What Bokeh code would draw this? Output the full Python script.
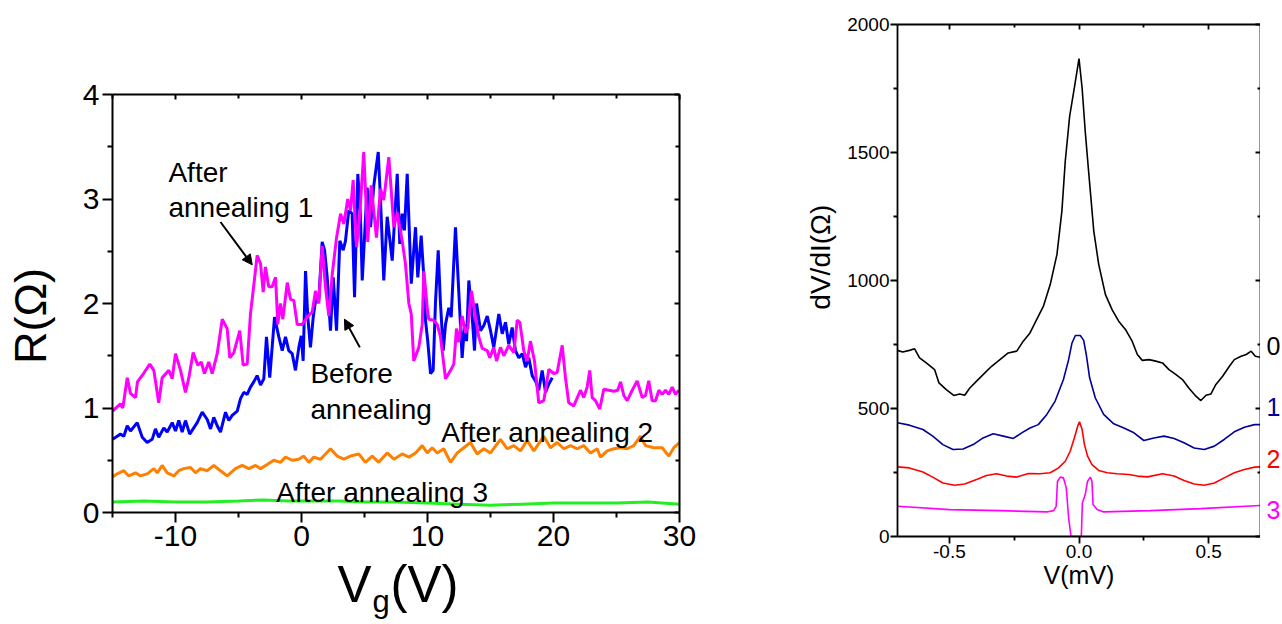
import math
from bokeh.plotting import figure
from bokeh.layouts import row, column
from bokeh.models import (LinearAxis, FixedTicker, Label, Arrow, NormalHead,
                          CustomJSTickFormatter, Range1d)
from bokeh.core.properties import value
from bokeh.embed import file_html
from bokeh.resources import INLINE

FONT = "Liberation Sans"

# ---------------- Left panel data: R (Ohm) vs Vg (V) ----------------
vg_before = [-15.0, -14.37, -14.10, -13.83, -13.57, -13.04, -12.64, -12.25, -11.85, -11.59,
             -11.33, -10.93, -10.66, -10.26, -10.0, -9.74, -9.47, -9.21, -8.87, -8.55,
             -8.28, -7.88, -7.48, -7.22, -6.96, -6.69, -6.43, -6.03, -5.77, -5.50,
             -5.10, -4.84, -4.58, -4.31, -4.05, -3.79, -3.52, -3.25, -2.99, -2.78,
             -2.52, -2.14, -1.80, -1.53, -1.27, -1.01, -0.74, -0.48, -0.21, -0.02,
             0.13, 0.32, 0.50, 0.71, 0.93, 1.19, 1.37, 1.64, 1.83, 2.04,
             2.30, 2.52, 2.78, 3.04, 3.31, 3.49, 3.75, 4.02, 4.21, 4.47,
             4.68, 4.82, 5.21, 5.48, 5.74, 6.09, 6.27, 6.53, 6.80, 7.20,
             7.60, 7.80, 7.99, 8.17, 8.39, 8.71, 9.05, 9.23, 9.50, 9.71,
             9.84, 10.02, 10.24, 10.45, 10.63, 10.85, 11.03, 11.25, 11.43, 11.69,
             11.88, 12.22, 12.48, 12.75, 12.94, 13.10, 13.28, 13.55, 13.73, 13.89,
             14.21, 14.47, 14.74, 15.0, 15.26, 15.66, 15.93, 16.19, 16.45, 16.72,
             16.98, 17.25, 17.52, 17.78, 18.04, 18.31, 18.57, 18.83, 19.10, 19.37,
             19.63, 19.90]
r_before = [0.70, 0.75, 0.73, 0.83, 0.78, 0.86, 0.72, 0.67, 0.70, 0.80,
            0.72, 0.81, 0.77, 0.86, 0.78, 0.88, 0.77, 0.88, 0.75, 0.81,
            0.86, 0.96, 0.89, 0.80, 0.91, 0.83, 0.77, 0.96, 0.88, 0.93,
            0.97, 1.09, 1.15, 1.13, 1.20, 1.25, 1.31, 1.22, 1.28, 1.68,
            1.29, 1.87, 1.68, 1.55, 1.68, 1.55, 1.52, 1.36, 1.58, 1.69,
            1.45, 2.31, 1.87, 1.58, 1.87, 2.09, 2.03, 2.59, 2.51, 2.25,
            1.74, 2.25, 1.74, 2.60, 2.51, 2.60, 2.89, 2.86, 2.06, 3.24,
            2.83, 2.22, 3.11, 2.73, 3.13, 3.45, 2.99, 2.22, 2.83, 2.41,
            3.24, 2.57, 2.86, 2.70, 3.24, 2.19, 2.73, 2.25, 2.65, 2.25,
            1.84, 1.64, 1.33, 1.36, 2.00, 2.51, 2.00, 1.55, 1.80, 1.96,
            1.87, 2.73, 2.12, 1.48, 1.80, 1.64, 2.22, 1.87, 1.55, 2.00,
            1.74, 1.79, 1.88, 1.74, 1.58, 1.90, 1.71, 1.82, 1.61, 1.77,
            1.55, 1.48, 1.52, 1.39, 1.48, 1.31, 1.26, 1.17, 1.36, 1.15,
            1.23, 1.29]

vg_ann1 = [-15.0, -14.37, -14.18, -13.83, -13.57, -13.17, -13.02, -12.54, -12.04, -11.72,
           -11.33, -11.06, -10.53, -10.26, -10.0, -9.60, -9.21, -8.94, -8.60, -8.23,
           -7.96, -7.70, -7.36, -7.09, -6.69, -6.29, -5.90, -5.69, -5.37, -4.90,
           -4.63, -4.31, -4.05, -3.79, -3.52, -3.25, -3.04, -2.86, -2.60, -2.33,
           -2.06, -1.88, -1.67, -1.48, -1.13, -0.87, -0.61, -0.34, 0.06, 0.45,
           0.85, 1.11, 1.37, 1.64, 1.90, 2.17, 2.44, 2.78, 3.10, 3.36,
           3.67, 3.89, 4.10, 4.37, 4.63, 4.94, 5.26, 5.53, 5.95, 6.27,
           6.53, 6.93, 7.33, 7.60, 7.99, 8.25, 8.52, 8.71, 8.91, 9.31,
           9.58, 9.71, 9.98, 10.10, 10.50, 10.77, 11.03, 11.43, 11.83, 12.09,
           12.30, 12.48, 12.75, 13.02, 13.20, 13.49, 13.81, 14.07, 14.34, 14.74,
           14.94, 15.26, 15.48, 15.79, 16.06, 16.45, 16.85, 17.12, 17.33, 17.64,
           17.91, 18.17, 18.49, 18.83, 19.23, 19.63, 20.02, 20.29, 20.69, 20.95,
           21.21, 21.61, 22.14, 22.40, 22.67, 22.88, 23.07, 23.33, 23.67, 23.99,
           24.39, 24.79, 25.10, 25.32, 25.58, 25.85, 26.25, 26.64, 27.04, 27.30,
           27.56, 27.83, 28.10, 28.36, 28.63, 28.89, 29.15, 29.42, 29.68, 29.95]
r_ann1 = [0.97, 1.04, 1.00, 1.29, 1.14, 1.10, 1.25, 1.33, 1.42, 1.36,
          1.05, 1.29, 1.36, 1.28, 1.52, 1.36, 1.15, 1.29, 1.53, 1.41,
          1.44, 1.33, 1.44, 1.33, 1.52, 1.85, 1.76, 1.48, 1.53, 1.74,
          1.41, 1.42, 1.90, 2.17, 2.46, 2.38, 2.11, 2.35, 2.16, 2.16,
          2.25, 1.80, 2.00, 1.85, 2.20, 2.04, 2.03, 1.80, 1.80, 1.87,
          1.92, 2.12, 2.00, 2.55, 2.16, 1.88, 2.28, 2.63, 2.86, 2.76,
          3.00, 2.89, 3.18, 2.54, 2.86, 3.45, 2.59, 3.13, 2.63, 3.10,
          2.99, 3.40, 2.73, 2.87, 2.60, 2.38, 2.00, 1.90, 1.45, 1.58,
          1.80, 2.31, 1.96, 1.85, 1.84, 1.80, 1.68, 1.28, 1.36, 1.42,
          1.76, 1.63, 1.88, 1.72, 1.77, 2.12, 1.87, 1.68, 1.57, 1.55,
          1.48, 1.58, 1.45, 1.58, 1.50, 1.60, 1.53, 1.84, 1.82, 1.55,
          1.45, 1.64, 1.45, 1.05, 1.07, 1.37, 1.33, 1.34, 1.60, 1.29,
          1.05, 1.02, 1.17, 1.10, 1.20, 1.36, 1.10, 1.07, 0.99, 1.18,
          1.17, 1.16, 1.17, 1.25, 1.12, 1.07, 1.17, 1.26, 1.10, 1.12,
          1.26, 1.07, 1.07, 1.17, 1.13, 1.17, 1.13, 1.20, 1.13, 1.17]

vg_ann2 = [-15.0, -14.63, -14.10, -13.71, -13.17, -12.78, -12.25, -11.72, -11.45, -11.06,
           -10.66, -10.13, -9.74, -9.34, -8.81, -8.41, -8.02, -7.48, -6.96, -6.43,
           -5.90, -5.24, -4.71, -4.18, -3.65, -3.25, -2.72, -2.20, -1.67, -1.27,
           -0.74, -0.21, 0.18, 0.58, 0.98, 1.51, 2.30, 2.83, 3.36, 3.89,
           4.55, 5.08, 5.61, 6.13, 6.80, 7.33, 7.99, 8.52, 9.05, 9.58,
           9.98, 10.37, 10.77, 11.29, 11.83, 12.36, 12.88, 13.41, 13.94, 14.47,
           15.0, 15.79, 16.33, 16.85, 17.38, 17.91, 18.44, 19.23, 19.76, 20.29,
           20.82, 21.35, 21.88, 22.40, 22.94, 23.47, 23.73, 24.26, 24.79, 25.32,
           25.85, 26.37, 26.90, 27.30, 27.96, 28.63, 29.15, 29.55, 30.0]
r_ann2 = [0.34, 0.37, 0.40, 0.35, 0.38, 0.35, 0.37, 0.42, 0.38, 0.45,
          0.38, 0.35, 0.40, 0.42, 0.43, 0.38, 0.42, 0.40, 0.45, 0.40,
          0.35, 0.42, 0.45, 0.42, 0.45, 0.42, 0.46, 0.50, 0.48, 0.53,
          0.50, 0.51, 0.54, 0.48, 0.53, 0.51, 0.61, 0.54, 0.51, 0.54,
          0.56, 0.48, 0.54, 0.48, 0.57, 0.51, 0.56, 0.53, 0.57, 0.64,
          0.57, 0.62, 0.57, 0.61, 0.48, 0.57, 0.62, 0.67, 0.56, 0.61,
          0.57, 0.70, 0.61, 0.64, 0.59, 0.69, 0.59, 0.73, 0.62, 0.67,
          0.61, 0.64, 0.61, 0.64, 0.57, 0.61, 0.53, 0.59, 0.61, 0.62,
          0.61, 0.64, 0.73, 0.64, 0.62, 0.62, 0.54, 0.62, 0.67]

vg_ann3 = [-15.0, -12.5, -10.0, -7.5, -5.0, -3.0, -1.0, 1.0, 3.0, 5.0,
           7.5, 10.0, 12.5, 15.0, 17.5, 20.0, 22.5, 25.0, 27.5, 30.0]
r_ann3 = [0.10, 0.11, 0.10, 0.10, 0.11, 0.12, 0.11, 0.11, 0.11, 0.10,
          0.10, 0.09, 0.08, 0.07, 0.08, 0.09, 0.09, 0.09, 0.10, 0.08]

vg_ticks = [-10, 0, 10, 20, 30]
vg_minor = [-15, -5, 5, 15, 25]
r_ticks = [0, 1, 2, 3, 4]
r_minor = [0.5, 1.5, 2.5, 3.5]

# ---------------- Right panel data: dV/dI (Ohm) vs V (mV) ----------------
v0 = [-0.70, -0.68, -0.654, -0.634, -0.615, -0.589, -0.557, -0.540, -0.512, -0.483,
      -0.460, -0.441, -0.421, -0.395, -0.363, -0.337, -0.305, -0.273, -0.240, -0.215,
      -0.189, -0.163, -0.137, -0.111, -0.085, -0.066, -0.053, -0.036, -0.018, 0.0,
      0.012, 0.024, 0.037, 0.057, 0.076, 0.102, 0.128, 0.153, 0.179, 0.205,
      0.225, 0.244, 0.270, 0.296, 0.322, 0.347, 0.373, 0.399, 0.425, 0.451,
      0.470, 0.490, 0.509, 0.528, 0.554, 0.580, 0.599, 0.625, 0.645, 0.664,
      0.680, 0.70]
d0 = [727, 721, 727, 733, 698, 678, 652, 600, 574, 551,
      557, 552, 580, 607, 639, 665, 691, 717, 724, 763,
      795, 848, 900, 984, 1102, 1271, 1466, 1642, 1752, 1867,
      1752, 1583, 1427, 1193, 1063, 945, 885, 841, 809, 763,
      711, 688, 691, 685, 678, 652, 633, 613, 578, 548,
      531, 552, 557, 594, 626, 665, 691, 704, 711, 724,
      704, 700]

v1 = [-0.70, -0.654, -0.602, -0.564, -0.525, -0.486, -0.447, -0.408, -0.370, -0.331,
      -0.292, -0.253, -0.221, -0.189, -0.157, -0.124, -0.092, -0.060, -0.040, -0.027,
      -0.014, 0.005, 0.018, 0.028, 0.041, 0.063, 0.095, 0.134, 0.173, 0.212,
      0.250, 0.289, 0.328, 0.367, 0.405, 0.444, 0.483, 0.522, 0.560, 0.599,
      0.638, 0.677, 0.70]
d1 = [444, 435, 418, 392, 359, 340, 342, 359, 385, 401,
      392, 383, 405, 424, 437, 477, 529, 613, 691, 756,
      785, 785, 766, 711, 620, 541, 477, 440, 424, 405,
      375, 385, 392, 383, 366, 346, 340, 353, 379, 409,
      427, 437, 437]

v2 = [-0.70, -0.654, -0.602, -0.564, -0.525, -0.479, -0.441, -0.395, -0.357, -0.318,
      -0.279, -0.240, -0.195, -0.150, -0.111, -0.079, -0.053, -0.034, -0.018, -0.005,
      0.002, 0.012, 0.021, 0.033, 0.050, 0.076, 0.109, 0.147, 0.192, 0.225,
      0.264, 0.322, 0.367, 0.405, 0.444, 0.483, 0.522, 0.560, 0.599, 0.638,
      0.677, 0.70]
d2 = [272, 268, 252, 232, 209, 200, 205, 223, 238, 245,
      236, 232, 246, 245, 249, 268, 294, 333, 385, 431,
      448, 418, 359, 314, 281, 258, 249, 245, 242, 236,
      233, 245, 236, 219, 205, 200, 209, 229, 249, 262,
      271, 272]

v3 = [-0.70, -0.499, -0.305, -0.124, -0.098, -0.088, -0.083, -0.072, -0.060, -0.049,
      -0.040, -0.031, -0.014, 0.009, 0.013, 0.024, 0.033, 0.044, 0.050, 0.054,
      0.070, 0.095, 0.276, 0.470, 0.70]
d3 = [118, 105, 101, 96, 101, 118, 216, 232, 229, 190,
      73, 1, 0, 0, 131, 164, 216, 232, 216, 125,
      105, 96, 101, 109, 121]

v_ticks = [-0.5, 0.0, 0.5]
v_minor = [-0.25, 0.25]
d_ticks = [0, 500, 1000, 1500, 2000]
d_minor = [250, 750, 1250, 1750]

curve_names = ["0", "1", "2", "3"]
curve_colors = ["black", "#000099", "#ff0000", "#ff00ff"]

NB = "\u00a0"


def no_frame_align(p):
    try:
        p.frame_align = False
    except Exception:
        pass


def style_axes(p, xt, xminor, yt, yminor, label_size, tick_out, minor_out, tick_in,
               minor_in, lw, standoff, xfmt, yfmt):
    p.xgrid.visible = False
    p.ygrid.visible = False
    p.outline_line_color = None
    p.background_fill_color = "white"
    p.border_fill_color = "white"
    xb = p.below[0]
    yl = p.left[0]
    xb.ticker = FixedTicker(ticks=xt, minor_ticks=xminor)
    xb.formatter = CustomJSTickFormatter(code=xfmt)
    yl.ticker = FixedTicker(ticks=yt, minor_ticks=yminor)
    yl.formatter = CustomJSTickFormatter(code=yfmt)
    for ax in (xb, yl):
        ax.axis_line_width = lw
        ax.axis_line_color = "black"
        ax.major_tick_line_width = lw
        ax.minor_tick_line_width = lw
        ax.major_tick_out = tick_out
        ax.major_tick_in = 0
        ax.minor_tick_out = minor_out
        ax.minor_tick_in = 0
        ax.major_label_text_font = FONT
        ax.major_label_text_font_size = label_size
        ax.major_label_text_color = "black"
        ax.major_label_standoff = standoff
        ax.axis_label_text_font = FONT
        ax.axis_label_text_font_style = "normal"
        ax.axis_label_text_color = "black"
    blank = "return ''"
    top = LinearAxis(ticker=FixedTicker(ticks=xt, minor_ticks=xminor),
                     formatter=CustomJSTickFormatter(code=blank))
    right = LinearAxis(ticker=FixedTicker(ticks=yt, minor_ticks=yminor),
                       formatter=CustomJSTickFormatter(code=blank))
    for ax in (top, right):
        ax.axis_line_width = lw
        ax.major_tick_line_width = lw
        ax.minor_tick_line_width = lw
        ax.major_tick_out = 0
        ax.major_tick_in = tick_in
        ax.minor_tick_out = 0
        ax.minor_tick_in = minor_in
        ax.major_label_text_font_size = "0px"
        ax.major_label_standoff = 0
    p.add_layout(top, "above")
    p.add_layout(right, "right")
    return xb, yl


def add_label(p, x, y, txt, size):
    p.add_layout(Label(x=x, y=y, text=txt, text_font=FONT, text_font_size=size,
                       text_color="black", text_align="left", text_baseline="alphabetic"))


# ---------------- Left figure ----------------
p1 = figure(width=760, height=561, x_range=(-15, 30), y_range=(0, 4),
            min_border_left=112, min_border_right=81, min_border_top=94, min_border_bottom=49,
            output_backend="svg", toolbar_location=None)
no_frame_align(p1)
xb1, yl1 = style_axes(p1, vg_ticks, vg_minor, r_ticks, r_minor, "30px", 10, 5, 5, 4, 2, 3,
                      "return tick.toFixed(0)", "return tick.toFixed(0)")
yl1.axis_label = "R(Ω)" + NB + NB
yl1.axis_label_text_font_size = "45px"
yl1.axis_label_standoff = 24

p1.line(vg_ann3, r_ann3, line_color="#22ee22", line_width=3)
p1.line(vg_ann2, r_ann2, line_color="#ff8000", line_width=3)
p1.line(vg_before, r_before, line_color="#0000ff", line_width=3)
p1.line(vg_ann1, r_ann1, line_color="#ff00ff", line_width=3)

ann = "28px"
add_label(p1, -10.56, 3.25, "After", ann)
add_label(p1, -10.56, 2.92, "annealing 1", ann)
add_label(p1, 0.71, 1.33, "Before", ann)
add_label(p1, 0.71, 0.99, "annealing", ann)
add_label(p1, 11.1, 0.77, "After annealing 2", ann)
add_label(p1, -2.0, 0.19, "After annealing 3", ann)

p1.add_layout(Arrow(x_start=-6.43, y_start=2.78, x_end=-3.91, y_end=2.37,
                    line_width=2, line_color="black",
                    end=NormalHead(size=10, fill_color="black", line_color="black")))
p1.add_layout(Arrow(x_start=4.63, y_start=1.58, x_end=3.41, y_end=1.85,
                    line_width=2, line_color="black",
                    end=NormalHead(size=10, fill_color="black", line_color="black")))

# strip under the left plot holding the x-axis title with its subscript
s1 = figure(width=760, height=63, x_range=Range1d(0, 760), y_range=Range1d(63, 0),
            x_axis_type=None, y_axis_type=None, min_border=0,
            output_backend="svg", toolbar_location=None)
no_frame_align(s1)
s1.outline_line_color = None
s1.background_fill_color = "white"
s1.border_fill_color = "white"
s1.text(x=[337, 390], y=[22.7, 22.7], text=["V", "(V)"], text_font=value(FONT),
        text_font_size="51px", text_color="black", text_align="left",
        text_baseline="alphabetic")
s1.text(x=[372], y=[39.6], text=["g"], text_font=value(FONT), text_font_size="31px",
        text_color="black", text_align="left", text_baseline="alphabetic")

# ---------------- Right figure ----------------
p2 = figure(width=500, height=624, x_range=(-0.7, 0.7), y_range=(0, 2000),
            min_border_left=137, min_border_right=0, min_border_top=24, min_border_bottom=88,
            output_backend="svg", toolbar_location=None)
no_frame_align(p2)
xb2, yl2 = style_axes(p2, v_ticks, v_minor, d_ticks, d_minor, "19px", 7, 4, 5, 3, 1.8, 1,
                      "return tick.toFixed(1)", "return tick.toFixed(0)")
yl2.axis_label = NB * 6 + "dV/dI(Ω)"
yl2.axis_label_text_font_size = "28px"
yl2.axis_label_standoff = 8
xb2.axis_label = "V(mV)"
xb2.axis_label_text_font_size = "25px"
xb2.axis_label_standoff = 0

p2.line(v3, d3, line_color=curve_colors[3], line_width=1.6)
p2.line(v2, d2, line_color=curve_colors[2], line_width=1.6)
p2.line(v1, d1, line_color=curve_colors[1], line_width=1.6)
p2.line(v0, d0, line_color=curve_colors[0], line_width=1.6)

# strip to the right of the right plot holding the curve numbers
s2 = figure(width=22, height=624, x_range=Range1d(0, 22), y_range=Range1d(624, 0),
            x_axis_type=None, y_axis_type=None, min_border=0,
            output_backend="svg", toolbar_location=None)
no_frame_align(s2)
s2.outline_line_color = None
s2.background_fill_color = "white"
s2.border_fill_color = "white"
s2.text(x=[6, 6, 6, 6], y=[345, 406, 458, 509], text=curve_names,
        text_color=curve_colors, text_font=value(FONT), text_font_size="25px",
        text_align="left", text_baseline="middle")

layout = row(column(p1, s1), p2, s2)
open("out.html", "w").write(file_html(layout, INLINE))
